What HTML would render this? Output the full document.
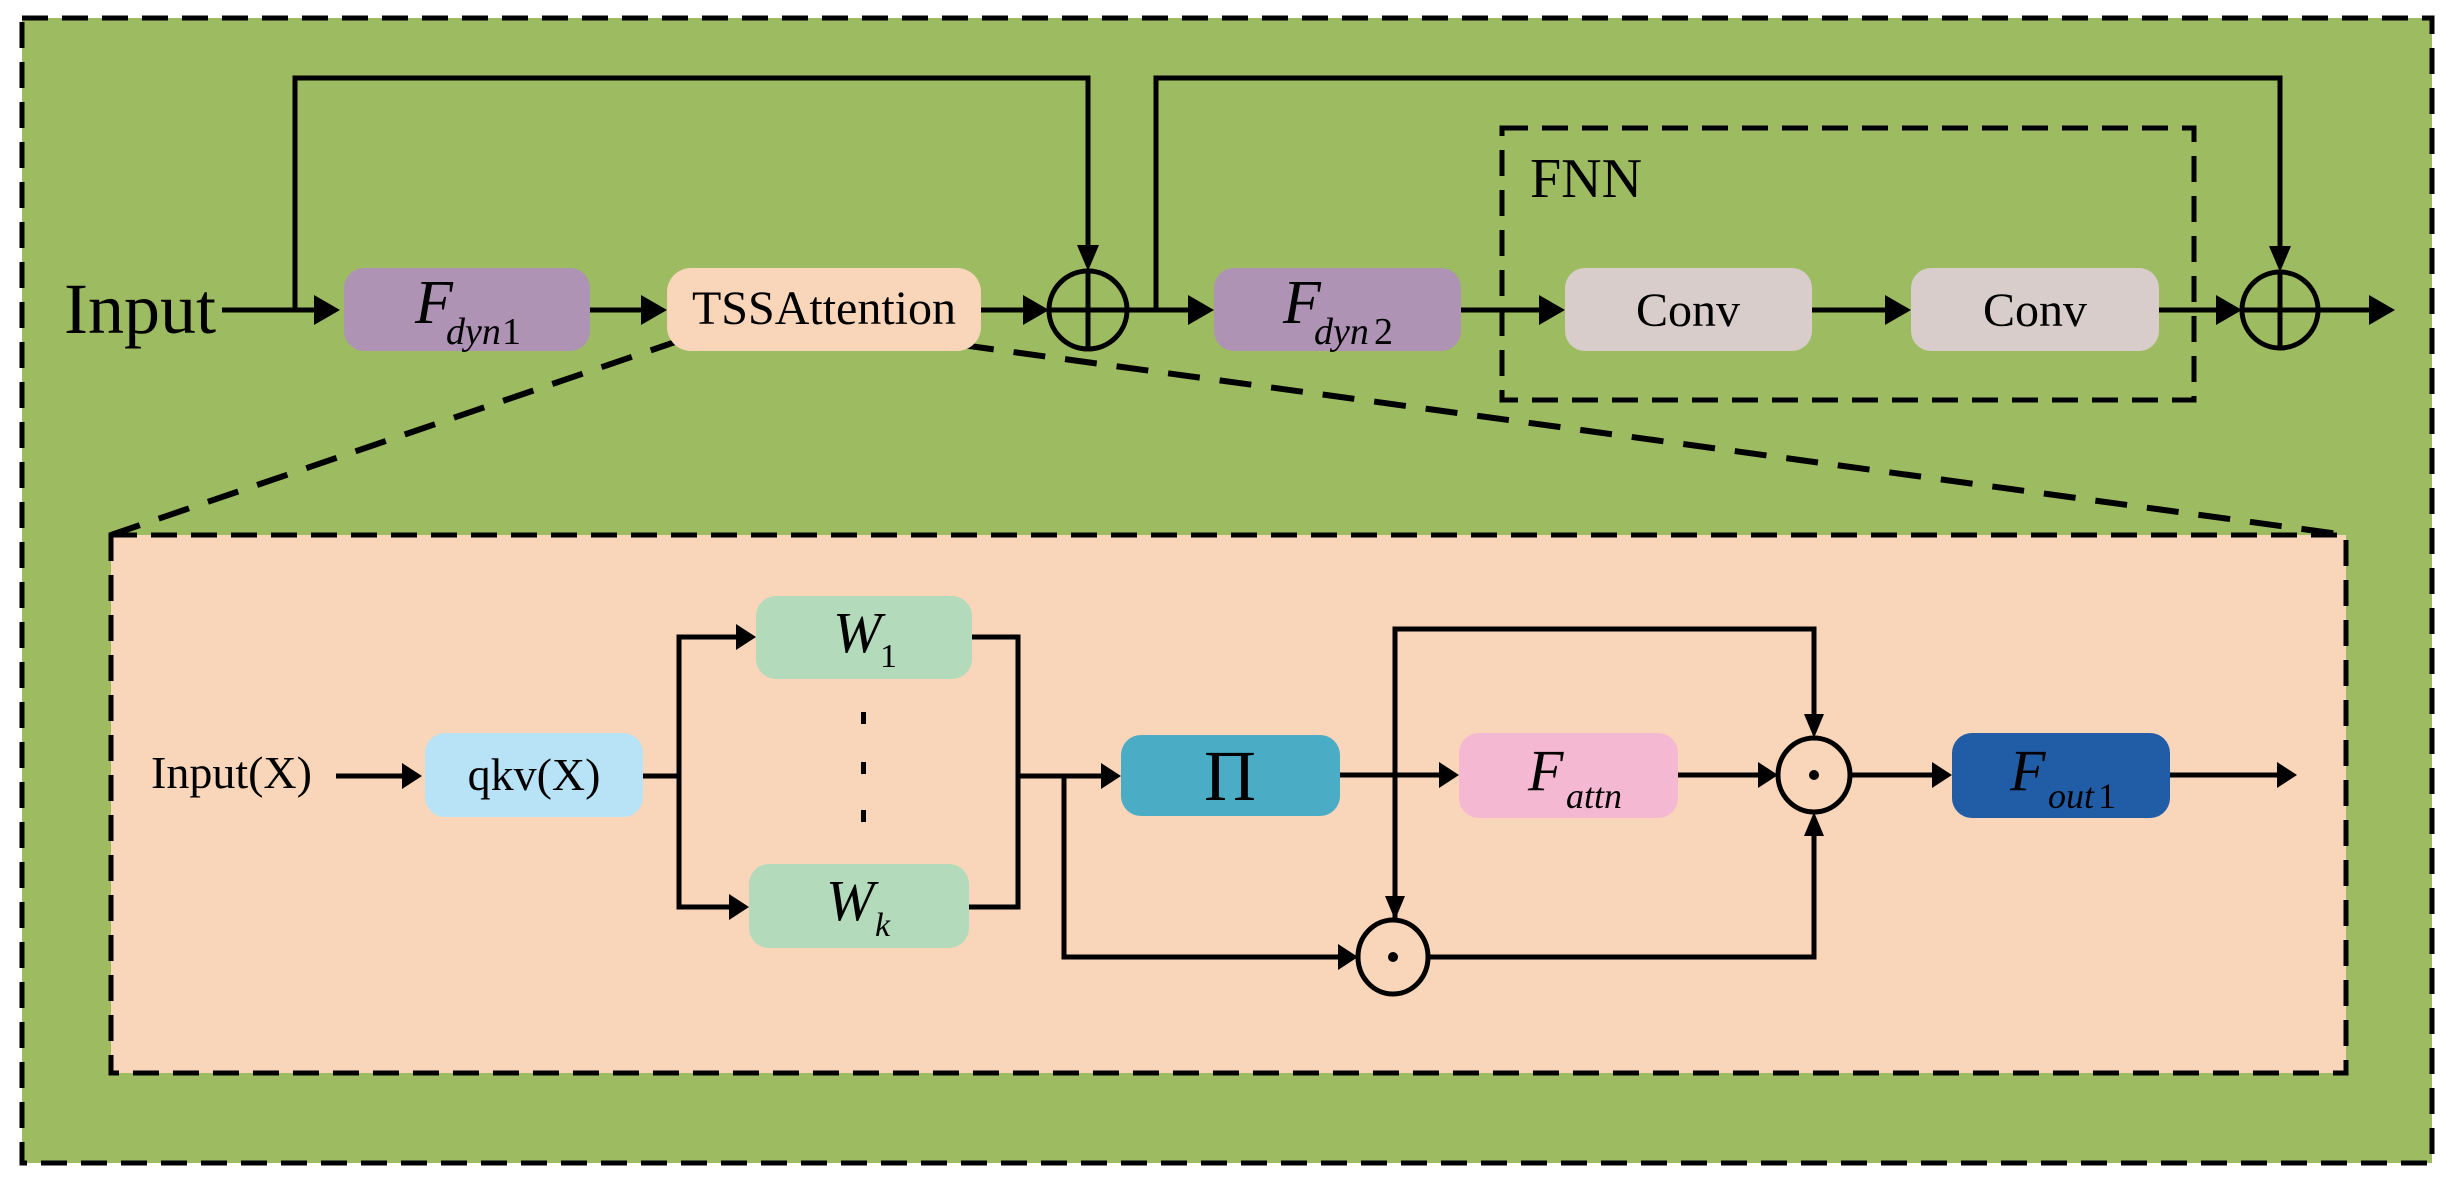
<!DOCTYPE html>
<html><head><meta charset="utf-8"><style>
html,body{margin:0;padding:0;background:#fff;}
svg{display:block;}
</style></head><body>
<svg width="2451" height="1189" viewBox="0 0 2451 1189" xmlns="http://www.w3.org/2000/svg" font-family="'Liberation Serif', 'DejaVu Serif', serif">
<!-- outer -->
<rect x="22" y="18" width="2410" height="1145" fill="#9dbb61" stroke="#000" stroke-width="5" stroke-dasharray="26,14"/>
<!-- inner -->
<rect x="111" y="535" width="2235" height="538" fill="#f9d6ba" stroke="#000" stroke-width="5" stroke-dasharray="26,14"/>
<!-- zoom lines -->
<line x1="681" y1="340" x2="111" y2="535" stroke="#000" stroke-width="6" stroke-dasharray="32,20"/>
<line x1="962" y1="345" x2="2346" y2="535" stroke="#000" stroke-width="6" stroke-dasharray="32,20"/>
<!-- FNN box -->
<rect x="1502" y="128" width="692" height="272" fill="none" stroke="#000" stroke-width="5" stroke-dasharray="26,14"/>
<text x="1530" y="197" font-size="56" font-family="'Liberation Serif', serif">FNN</text>

<g fill="none" stroke="#000" stroke-width="5">
<line x1="222" y1="310" x2="318" y2="310"/>
<line x1="590" y1="310" x2="645" y2="310"/>
<line x1="981" y1="310" x2="1027" y2="310"/>
<line x1="1127" y1="310" x2="1192" y2="310"/>
<line x1="1461" y1="310" x2="1543" y2="310"/>
<line x1="1812" y1="310" x2="1889" y2="310"/>
<line x1="2159" y1="310" x2="2220" y2="310"/>
<line x1="2318" y1="310" x2="2373" y2="310"/>
<polyline points="295,310 295,78 1088,78 1088,250"/>
<polyline points="1156,310 1156,78 2280,78 2280,250"/>
<circle cx="1088" cy="310" r="39"/>
<line x1="1049" y1="310" x2="1127" y2="310"/>
<line x1="1088" y1="271" x2="1088" y2="349"/>
<circle cx="2280" cy="310" r="38"/>
<line x1="2242" y1="310" x2="2318" y2="310"/>
<line x1="2280" y1="272" x2="2280" y2="348"/>
</g>
<g fill="#000">
<path d="M340,310 l-26,-15 v30 z"/>
<path d="M667,310 l-26,-15 v30 z"/>
<path d="M1049,310 l-26,-15 v30 z"/>
<path d="M1214,310 l-26,-15 v30 z"/>
<path d="M1565,310 l-26,-15 v30 z"/>
<path d="M1911,310 l-26,-15 v30 z"/>
<path d="M2242,310 l-26,-15 v30 z"/>
<path d="M2395,310 l-26,-15 v30 z"/>
<path d="M1088,271 l-11,-26 h22 z"/>
<path d="M2280,272 l-11,-26 h22 z"/>
</g>

<g font-family="'Liberation Serif', 'DejaVu Serif', serif">
<rect x="344" y="268" width="246" height="83" rx="20" fill="#ae93b5"/>
<text x="415" y="323" font-size="62" font-style="italic">F</text>
<text x="446" y="344" font-size="38" font-style="italic">dyn</text><text x="502" y="344" font-size="38">1</text>
<rect x="667" y="268" width="314" height="83" rx="24" fill="#f9d6ba"/>
<text x="824" y="324" font-size="48" text-anchor="middle">TSSAttention</text>
<rect x="1214" y="268" width="247" height="83" rx="20" fill="#ae93b5"/>
<text x="1283" y="323" font-size="62" font-style="italic">F</text>
<text x="1314" y="344" font-size="38" font-style="italic">dyn</text><text x="1374" y="344" font-size="38">2</text>
<rect x="1565" y="268" width="247" height="83" rx="20" fill="#d8cdca"/>
<text x="1688" y="326" font-size="48" text-anchor="middle">Conv</text>
<rect x="1911" y="268" width="248" height="83" rx="20" fill="#d8cdca"/>
<text x="2035" y="326" font-size="48" text-anchor="middle">Conv</text>

<text x="64" y="333" font-size="72">Input</text>
</g>

<g fill="none" stroke="#000" stroke-width="5">
<line x1="336" y1="776" x2="405" y2="776"/>
<line x1="643" y1="776" x2="679" y2="776"/>
<polyline points="740,637 679,637 679,907 733,907"/>
<polyline points="972,637 1018,637 1018,907 969,907"/>
<line x1="1018" y1="776" x2="1104" y2="776"/>
<polyline points="1064,776 1064,957 1340,957"/>
<line x1="1340" y1="775" x2="1442" y2="775"/>
<polyline points="1395,921 1395,629 1814,629 1814,720"/>
<line x1="1678" y1="775" x2="1760" y2="775"/>
<polyline points="1429,957 1814,957 1814,830"/>
<line x1="1850" y1="775" x2="1935" y2="775"/>
<line x1="2170" y1="775" x2="2280" y2="775"/>
<ellipse cx="1393" cy="957" rx="35" ry="37"/>
<ellipse cx="1814" cy="775" rx="36" ry="37"/>
</g>
<g fill="#000">
<path d="M422,776 l-20,-13 v26 z"/>
<path d="M756,637 l-20,-13 v26 z"/>
<path d="M749,907 l-20,-13 v26 z"/>
<path d="M1121,776 l-20,-13 v26 z"/>
<path d="M1459,775 l-20,-13 v26 z"/>
<path d="M1358,957 l-20,-13 v26 z"/>
<path d="M1778,775 l-20,-13 v26 z"/>
<path d="M1952,775 l-20,-13 v26 z"/>
<path d="M2297,775 l-20,-13 v26 z"/>
<path d="M1395,920 l-10,-24 h20 z"/>
<path d="M1814,738 l-10,-24 h20 z"/>
<path d="M1814,812 l-10,24 h20 z"/>
<circle cx="1393" cy="957" r="5"/>
<circle cx="1814" cy="775" r="5"/>
<rect x="861" y="712" width="5" height="12"/>
<rect x="861" y="762" width="5" height="12"/>
<rect x="861" y="810" width="5" height="12"/>
</g>

<g font-family="'Liberation Serif', 'DejaVu Serif', serif">
<text x="151" y="788" font-size="46">Input(X)</text>
<rect x="425" y="733" width="218" height="84" rx="20" fill="#b8e3f7"/>
<text x="534" y="790" font-size="46" text-anchor="middle">qkv(X)</text>
<rect x="756" y="596" width="216" height="83" rx="20" fill="#b3dbbb"/>
<text x="833" y="652" font-size="58" font-style="italic">W</text><text x="880" y="667" font-size="34">1</text>
<rect x="749" y="864" width="220" height="84" rx="20" fill="#b3dbbb"/>
<text x="826" y="920" font-size="58" font-style="italic">W</text><text x="875" y="936" font-size="34" font-style="italic">k</text>
<rect x="1121" y="735" width="219" height="81" rx="20" fill="#4aacc5"/>
<text x="1230" y="800" font-size="72" text-anchor="middle">Π</text>
<rect x="1459" y="733" width="219" height="85" rx="20" fill="#f5b8d2"/>
<text x="1528" y="790" font-size="58" font-style="italic">F</text><text x="1566" y="808" font-size="36" font-style="italic">attn</text>
<rect x="1952" y="733" width="218" height="85" rx="20" fill="#215da6"/>
<text x="2010" y="790" font-size="58" font-style="italic">F</text><text x="2048" y="808" font-size="36" font-style="italic">out</text><text x="2098" y="808" font-size="36">1</text>
</g>
</svg>
</body></html>
